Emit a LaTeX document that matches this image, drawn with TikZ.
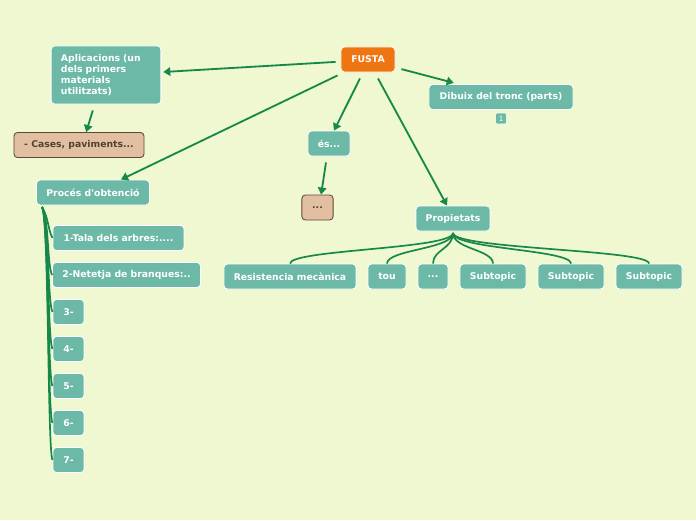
\documentclass[tikz,border=0pt]{standalone}
\usepackage{fontspec}
\setmainfont{DejaVu Sans}
\usetikzlibrary{arrows.meta}

\definecolor{bgcol}{HTML}{EFF8D0}
\definecolor{topiccol}{HTML}{6CB9A8}
\definecolor{rootcol}{HTML}{EE7511}
\definecolor{notecol}{HTML}{E2BFA0}
\definecolor{notebrd}{HTML}{5A4A3A}
\definecolor{linkcol}{HTML}{17884A}

\tikzset{
  topic/.style={draw=white, line width=0.6pt, fill=topiccol, rounded corners=2.5pt,
    text=white, font=\fontsize{6.6}{8}\selectfont\bfseries, minimum height=0.625cm,
    inner xsep=7pt, inner ysep=2pt},
  root/.style={topic, fill=rootcol},
  note/.style={topic, draw=notebrd, fill=notecol, text=notebrd!90!black},
  link/.style={draw=linkcol, line width=1.3pt, -{Triangle[length=5pt,width=6pt]}},
  branch/.style={draw=linkcol, line width=1.2pt}
}

\begin{document}
\begin{tikzpicture}[x=0.025cm,y=-0.025cm]
\fill[bgcol] (0,0) rectangle (696,520);
\useasboundingbox (0,0) rectangle (696,520);

% main topic
\node[root, minimum width=1.35cm] (fusta) at (368,59.5) {FUSTA};

% left side
\node[topic, align=left, text width=2.25cm, minimum height=1.45cm] (aplic) at (106,75)
  {Aplicacions (un\\dels primers\\materials\\utilitzats)};
\node[note, minimum width=3.25cm] (cases) at (79,145) {- Cases, paviments...};
\node[topic, minimum width=2.8cm] (proces) at (93,192.5) {Procés d\textquotesingle obtenció};

% steps
\node[topic, minimum width=3.28cm] (pas1) at (118.5,238) {1-Tala dels arbres:....};
\node[topic, minimum width=3.68cm] (pas2) at (126.5,275) {2-Netetja de branques:..};
\foreach \n/\y in {3/312,4/349,5/386,6/423,7/460}
  \node[topic, minimum width=0.78cm, inner xsep=3pt] (pas\n) at (68.5,\y) {\n-};

% middle
\node[topic, minimum width=1.05cm, inner xsep=3pt] (es) at (329,143.5) {és...};
\node[note, minimum width=0.78cm, inner xsep=3pt] (esnota) at (317.5,207.5) {...};

% right side
\node[topic, minimum width=3.6cm] (dibuix) at (501,97) {Dibuix del tronc (parts)};
\node[draw=white, line width=0.3pt, fill=topiccol, rounded corners=1pt, text=white,
  font=\fontsize{5}{6}\selectfont, minimum size=0.27cm, inner sep=0pt] (badge) at (501,118.5) {1};
\node[topic, minimum width=1.85cm] (propi) at (453,218.5) {Propietats};

% properties
\node[topic, minimum width=3.3cm] (prop1) at (290,276.5) {Resistencia mecànica};
\node[topic, minimum width=0.95cm, inner xsep=3pt] (prop2) at (387,276.5) {tou};
\node[topic, minimum width=0.75cm, inner xsep=3pt] (prop3) at (433,276.5) {...};
\node[topic, minimum width=1.65cm] (prop4) at (493,276.5) {Subtopic};
\node[topic, minimum width=1.65cm] (prop5) at (571,276.5) {Subtopic};
\node[topic, minimum width=1.65cm] (prop6) at (649,276.5) {Subtopic};

% arrows from the main topic
\draw[link] ([xshift=-0.125cm,yshift=-0.06cm]fusta.west) -- ([xshift=0.05cm,yshift=0.075cm]aplic.east);
\draw[link] ([xshift=-0.075cm,yshift=-0.075cm]fusta.south west) -- ([xshift=0.7cm]proces.north);
\draw[link] ([xshift=-0.2cm,yshift=-0.15cm]fusta.south) -- ([xshift=0.125cm]es.north);
\draw[link] ([xshift=0.25cm,yshift=-0.15cm]fusta.south) -- ([xshift=-0.15cm]propi.north);
\draw[link] ([xshift=0.15cm,yshift=-0.24cm]fusta.east) -- ([xshift=-1.18cm,yshift=0.03cm]dibuix.north);
\draw[link] ([xshift=-0.33cm,yshift=-0.15cm]aplic.south) -- ([xshift=0.18cm]cases.north);
\draw[link] ([xshift=-0.075cm,yshift=-0.15cm]es.south) -- ([xshift=0.09cm]esnota.north);

% steps of the process
\coordinate (procroot) at (42,207);
\foreach \n in {1,...,7}
  \draw[branch] (procroot) .. controls +(7,12) and +(-5,-10) .. (pas\n.west);

% properties tree
\coordinate (propiroot) at (453,233);
\foreach \n in {1,...,6}
  \draw[branch] (propiroot) .. controls +(0,16) and +(0,-14) .. (prop\n.north);
\end{tikzpicture}
\end{document}
